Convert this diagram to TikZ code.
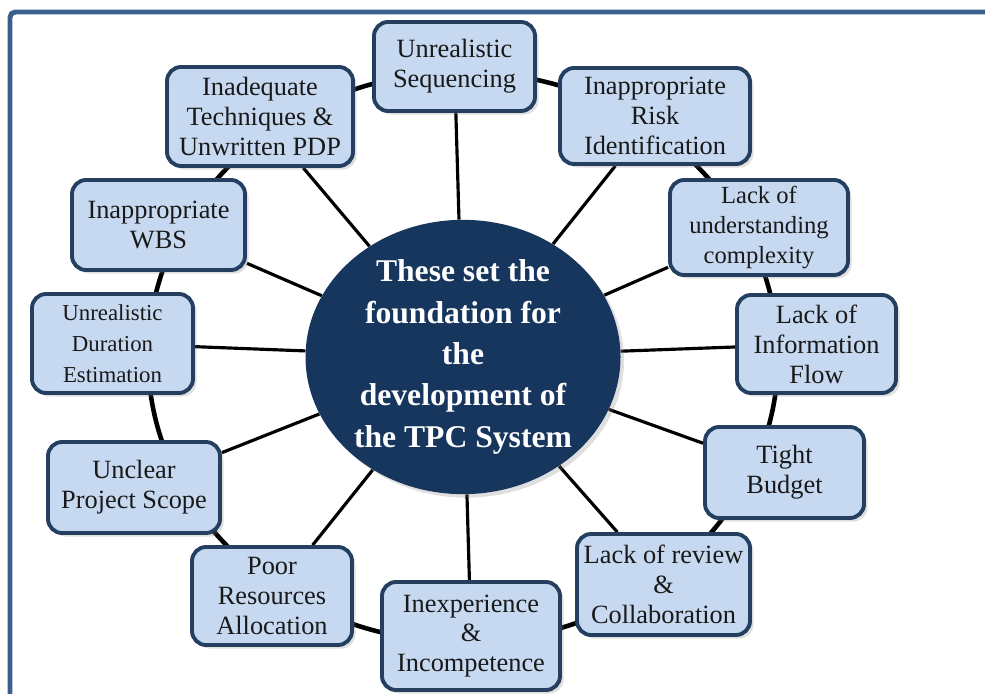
\documentclass[tikz,border=0pt]{standalone}
\usepackage{fontspec}
\setmainfont{Liberation Serif}
\usetikzlibrary{shapes.geometric,shadows,backgrounds}

\definecolor{boxfill}{HTML}{C6D9F1}
\definecolor{boxline}{HTML}{243F60}
\definecolor{hubfill}{HTML}{17365D}
\definecolor{framecol}{HTML}{3A5F8C}

\begin{document}
\begin{tikzpicture}[
  cause/.style={draw=boxline, line width=2.2pt, fill=boxfill, rounded corners=8pt,
                align=center, text=black!90, inner sep=2pt,
                font=\fontsize{15}{17}\selectfont,
                drop shadow={shadow xshift=2pt, shadow yshift=-2pt, opacity=0.25}},
  boxsize/.style 2 args={minimum width=#1cm, minimum height=#2cm},
  hub/.style={ellipse, fill=hubfill, minimum width=6.3cm, minimum height=5.4cm,
              inner sep=0pt, text=white, align=center,
              font=\bfseries\fontsize{18}{23.5}\selectfont,
              drop shadow={shadow xshift=2pt, shadow yshift=-2pt, opacity=0.25}},
  spoke/.style={line width=1.8pt, black},
  ring/.style={line width=2.6pt, black},
  frame/.style={line width=2.8pt, draw=framecol, rounded corners=3pt}]
\useasboundingbox (0,0) rectangle (19.7,13.86);
\clip (0,0) rectangle (19.7,13.86);

% outer frame (cut by the page)
\draw[frame] (0.2,-0.5) |- (20.5,13.62);

% central idea
\node[hub] (hub) at (9.26,6.72)
  {These set the\\foundation for\\the\\development of\\the TPC System};

% causes, clockwise from the top
\node[cause, boxsize={3.22}{1.78}] (seq) at (9.09,12.53) {Unrealistic\\Sequencing};
\node[cause, boxsize={3.80}{1.92}] (risk) at (13.10,11.54) {Inappropriate\\Risk\\Identification};
\node[cause, boxsize={3.56}{1.90}, font=\fontsize{14}{17}\selectfont] (cplx) at (15.18,9.31)
  {Lack of\\understanding\\complexity};
\node[cause, boxsize={3.18}{1.96}] (info) at (16.33,6.98) {Lack of\\Information\\Flow};
\node[cause, boxsize={3.18}{1.82}] (budget) at (15.69,4.41) {Tight\\Budget};
\node[cause, boxsize={3.46}{2.02}] (review) at (13.27,2.17) {Lack of review\\\&\\Collaboration};
\node[cause, boxsize={3.56}{2.16}] (skill) at (9.42,1.14) {Inexperience\\\&\\Incompetence};
\node[cause, boxsize={3.20}{1.96}] (alloc) at (5.44,1.94) {Poor\\Resources\\Allocation};
\node[cause, boxsize={3.44}{1.82}] (scope) at (2.68,4.11) {Unclear\\Project Scope};
\node[cause, boxsize={3.22}{1.98}, font=\fontsize{13}{17.5}\selectfont] (dur) at (2.25,6.99)
  {Unrealistic\\Duration\\Estimation};
\node[cause, boxsize={3.46}{1.80}] (wbs) at (3.17,9.36) {Inappropriate\\WBS};
\node[cause, boxsize={3.72}{1.98}] (pdp) at (5.20,11.53) {Inadequate\\Techniques \&\\Unwritten PDP};

% ring and spokes behind everything
\begin{scope}[on background layer]
  \draw[ring] (hub.center) ellipse [x radius=6.3cm, y radius=5.7cm];
  \foreach \c in {seq,risk,cplx,info,budget,review,skill,alloc,scope,dur,wbs,pdp}
    \draw[spoke] (hub) -- (\c);
\end{scope}
\end{tikzpicture}
\end{document}
